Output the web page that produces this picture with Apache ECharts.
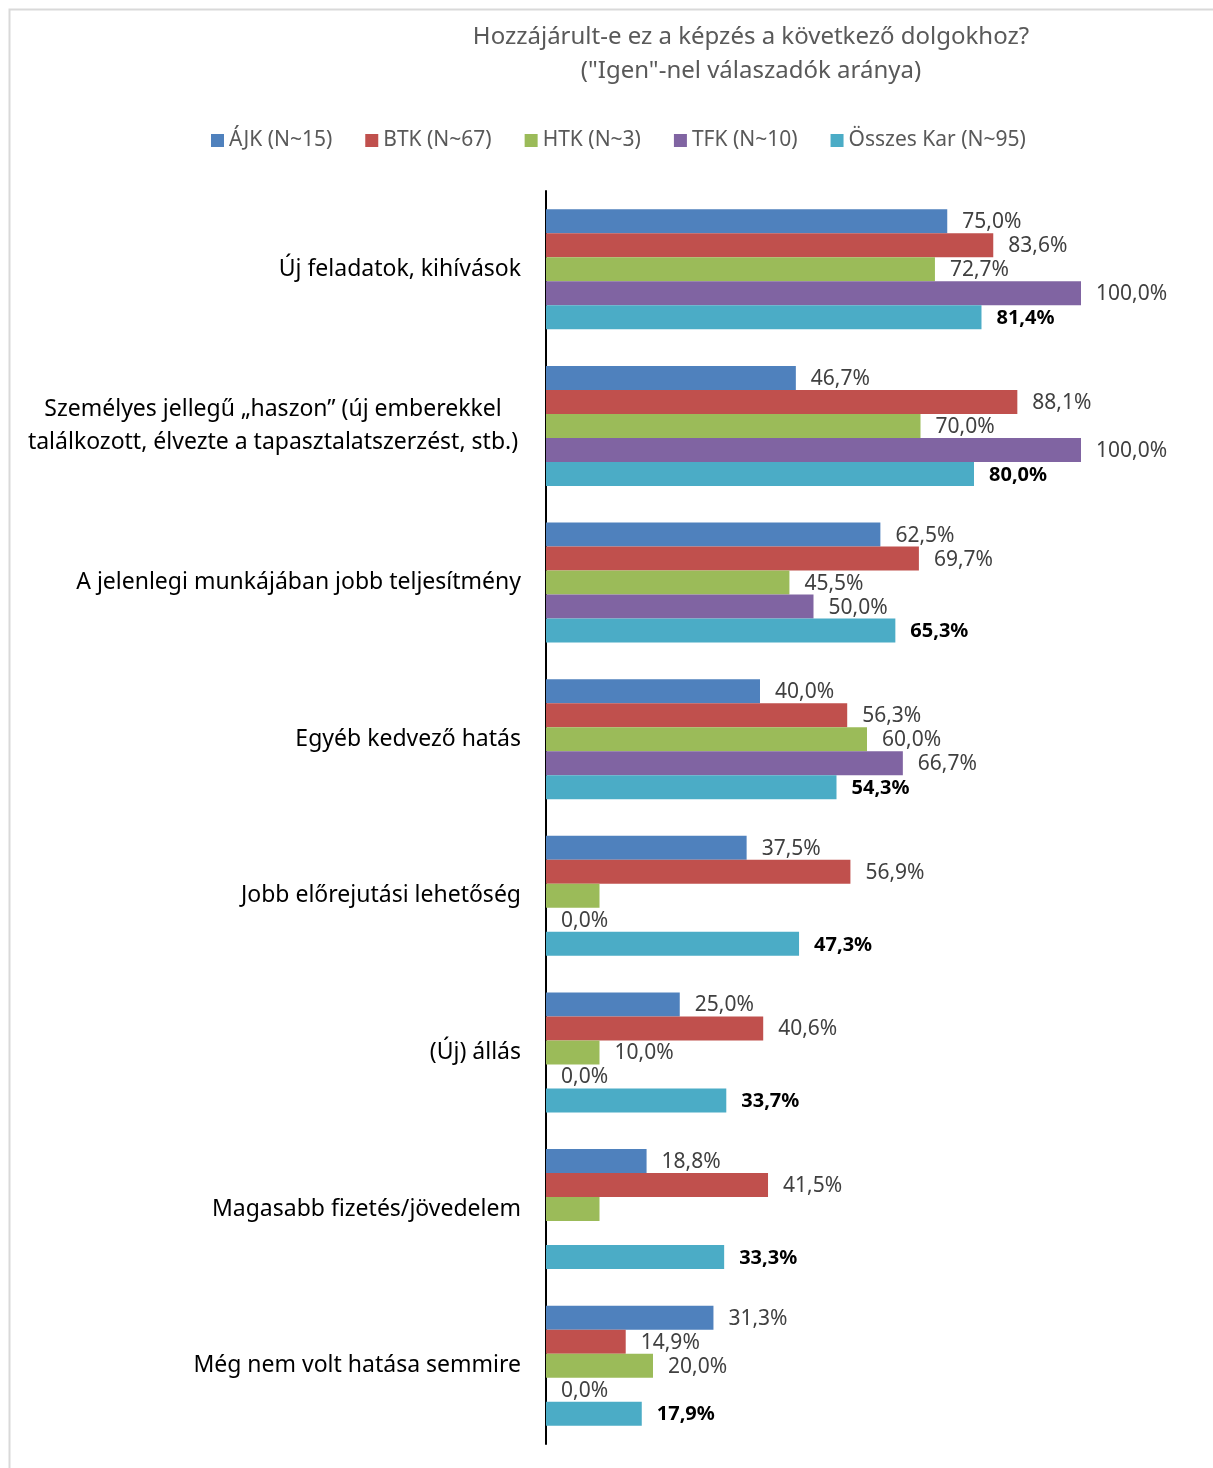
<!DOCTYPE html>
<html>
<head>
<meta charset="utf-8">
<script src="https://cdn.jsdelivr.net/npm/echarts@6/dist/echarts.min.js"></script>
<style>
html, body { margin: 0; padding: 0; background: #fff; }
#chart { width: 1213px; height: 1468px; }
</style>
</head>
<body>
<div id="chart"></div>
<script>
var categories = [
    'Új feladatok, kihívások',
    'Személyes jellegű „haszon” (új emberekkel\ntalálkozott, élvezte a tapasztalatszerzést, stb.)',
    'A jelenlegi munkájában jobb teljesítmény',
    'Egyéb kedvező hatás',
    'Jobb előrejutási lehetőség',
    '(Új) állás',
    'Magasabb fizetés/jövedelem',
    'Még nem volt hatása semmire'
];
var seriesNames = ['ÁJK (N~15)', 'BTK (N~67)', 'HTK (N~3)', 'TFK (N~10)', 'Összes Kar (N~95)'];
var colors = ['#4f81bd', '#c0504d', '#9bbb59', '#8064a2', '#4bacc6'];

var ajk = [75.0, 46.7, 62.5, 40.0, 37.5, 25.0, 18.8, 31.3];
var btk = [83.6, 88.1, 69.7, 56.3, 56.9, 40.6, 41.5, 14.9];
var htk = [72.7, 70.0, 45.5, 60.0, 10.0, 10.0, 10.0, 20.0];
var tfk = [100.0, 100.0, 50.0, 66.7, 0.0, 0.0, null, 0.0];
var osszes = [81.4, 80.0, 65.3, 54.3, 47.3, 33.7, 33.3, 17.9];
// labels that are missing in the original
var htkNoLabel = [4, 6];

var values = [ajk, btk, htk, tfk, osszes];

function fmt(v) {
    return v.toFixed(1).replace('.', ',') + '%';
}

var series = [];
for (var i = 0; i < values.length; i++) {
    var bold = (i === 4);
    var data = [];
    for (var j = 0; j < values[i].length; j++) {
        var item = { value: values[i][j] };
        if (i === 2 && htkNoLabel.indexOf(j) >= 0) {
            item.label = { show: false };
        }
        data.push(item);
    }
    series.push({
        name: seriesNames[i],
        type: 'bar',
        data: data,
        barWidth: 24,
        barGap: '0%',
        itemStyle: { color: colors[i] },
        label: {
            show: true,
            position: 'right',
            distance: 15,
            offset: [0, 1],
            fontFamily: 'Noto Sans',
            fontSize: bold ? 20 : 21,
            fontWeight: bold ? 'bold' : 'normal',
            color: bold ? '#000' : '#404040',
            formatter: function(p) { return fmt(p.value); }
        }
    });
}

var myChart = echarts.init(document.getElementById('chart'));
var option = {
    animation: false,
    title: {
        text: 'Hozzájárult-e ez a képzés a következő dolgokhoz?\n("Igen"-nel válaszadók aránya)',
        left: 746,
        top: 15,
        textAlign: 'center',
        textStyle: {
            fontFamily: 'Noto Sans',
            fontSize: 24,
            fontWeight: 'normal',
            color: '#595959',
            lineHeight: 34
        }
    },
    legend: {
        top: 125,
        left: 206,
        data: seriesNames,
        itemWidth: 13,
        itemHeight: 13,
        itemGap: 33,
        icon: 'rect',
        textStyle: {
            fontFamily: 'Noto Sans',
            fontSize: 21,
            color: '#595959'
        }
    },
    grid: {
        left: 546,
        right: 1213 - 1081,
        top: 191,
        bottom: 24,
        containLabel: false
    },
    xAxis: {
        type: 'value',
        min: 0,
        max: 100,
        show: false
    },
    yAxis: {
        type: 'category',
        data: categories,
        inverse: true,
        axisLine: { show: true, lineStyle: { color: '#000', width: 2 } },
        axisTick: { show: false },
        axisLabel: {
            margin: 25,
            fontFamily: 'Noto Sans',
            fontSize: 23,
            color: '#000',
            lineHeight: 33,
            formatter: function(v) {
                if (v.indexOf('\n') >= 0) {
                    return v.split('\n').map(function(s) { return '{c|' + s + '}'; }).join('\n');
                }
                return v;
            },
            rich: {
                c: { width: 496, align: 'center', fontFamily: 'Noto Sans', fontSize: 23, color: '#000', lineHeight: 33 }
            }
        }
    },
    graphic: [{
        type: 'rect',
        left: 7,
        top: 7,
        shape: { width: 1300, height: 1500 },
        style: { fill: 'none', stroke: '#d9d9d9', lineWidth: 2 },
        silent: true
    }],
    series: series
};
myChart.setOption(option, true);
window.addEventListener('resize', function() {
    myChart.resize();
});
</script>
</body>
</html>
